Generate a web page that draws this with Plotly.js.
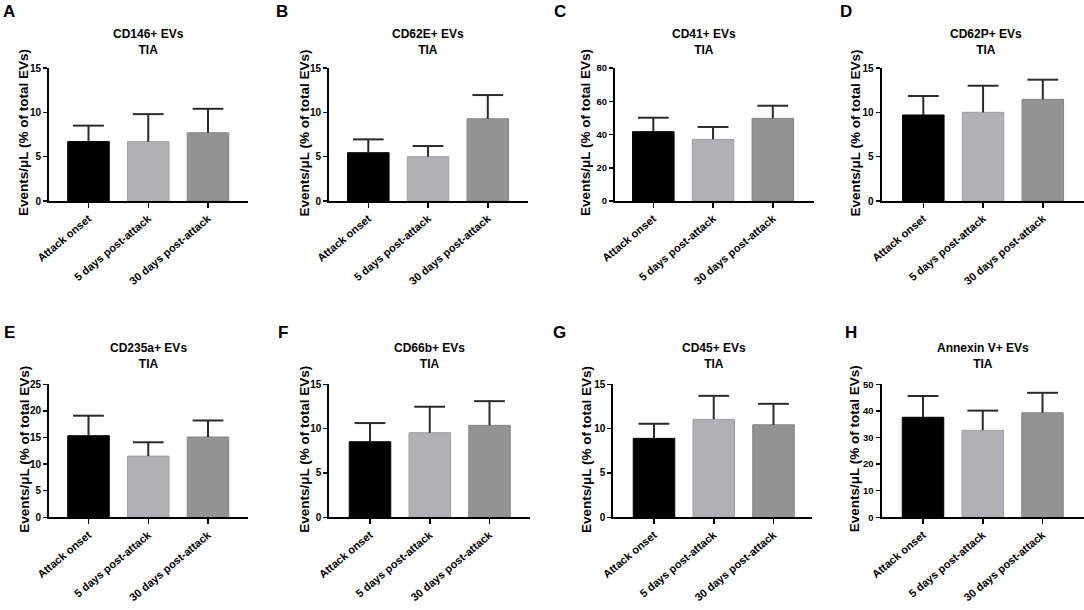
<!DOCTYPE html>
<html>
<head>
<meta charset="utf-8">
<script src="https://cdn.plot.ly/plotly-3.0.1.min.js"></script>
<style>
  body { margin: 0; background: #ffffff; }
  #myDiv { width: 1084px; height: 610px; }
</style>
</head>
<body>
<div id="myDiv"></div>
<script>
// Datos
const categories = ['Attack onset', '5 days post-attack', '30 days post-attack'];
const panelLetters = ['A', 'B', 'C', 'D', 'E', 'F', 'G', 'H'];
const markers = ['CD146+ EVs', 'CD62E+ EVs', 'CD41+ EVs', 'CD62P+ EVs',
                 'CD235a+ EVs', 'CD66b+ EVs', 'CD45+ EVs', 'Annexin V+ EVs'];
const subTitle = 'TIA';
const yTitle = 'Events/μL (% of total EVs)';

const meansA = [6.7, 6.7, 7.7];
const errA = [1.8, 3.1, 2.7];
const meansB = [5.45, 5.0, 9.28];
const errB = [1.5, 1.2, 2.67];
const meansC = [41.7, 37.1, 49.7];
const errC = [8.4, 7.4, 7.6];
const meansD = [9.7, 10.0, 11.47];
const errD = [2.14, 3.0, 2.21];
const meansE = [15.34, 11.5, 15.1];
const errE = [3.76, 2.6, 3.1];
const meansF = [8.52, 9.54, 10.37];
const errF = [2.11, 2.93, 2.73];
const meansG = [8.9, 11.05, 10.44];
const errG = [1.65, 2.65, 2.36];
const meansH = [37.6, 32.7, 39.3];
const errH = [8.0, 7.4, 7.5];

const yMax = [15, 15, 80, 15, 25, 15, 15, 50];
const yStep = [5, 5, 20, 5, 5, 5, 5, 10];

const allMeans = [meansA, meansB, meansC, meansD, meansE, meansF, meansG, meansH];
const allErr = [errA, errB, errC, errD, errE, errF, errG, errH];

// Geometría (px) de cada panel: borde izq. del eje, centro de la 1ª barra, borde der.
const W = 1084, H = 610;
const axLeft  = [49, 329, 615, 881.5, 49, 329.3, 613.3, 881.5];
const firstC  = [88.5, 368.3, 653.3, 923.3, 88.5, 370, 654, 923];
const axRight = [248, 528, 814, 1084, 248, 530, 812, 1084];
const rowTop = [68, 384.3];
const rowBottom = [201, 517.3];
const step = 59.75;

const titleX = [148, 427.7, 703.8, 985.8, 148, 429.3, 714, 982.7];
const titleY = [41.5, 356.5];
const letterX = [9, 282, 560, 846, 9, 283, 559, 851];
const letterY = [11.5, 332];
const yTitleX = [24, 304.5, 586, 855.5, 24.5, 304.5, 586.7, 854];
const yTickSize = [10, 10, 9.5, 10, 10, 10, 10, 9.5];

const barColors = ['#000000', '#b1b1b5', '#939393'];
const barLines = ['#000000', '#a0a0a4', '#868686'];
const errColor = '#2a2a2a';
const font = 'Liberation Sans, Arial, sans-serif';

let traces = [];
let layout = {
    width: W,
    height: H,
    margin: { l: 0, r: 0, t: 0, b: 0 },
    paper_bgcolor: '#ffffff',
    plot_bgcolor: '#ffffff',
    showlegend: false,
    font: { family: font, color: '#000000' },
    annotations: []
};

for (let i = 0; i < 8; i++) {
    let row = i < 4 ? 0 : 1;
    let n = i === 0 ? '' : String(i + 1);

    // barras con la línea de error hacia arriba (sin tapa)
    traces.push({
        type: 'bar',
        x: categories,
        y: allMeans[i],
        xaxis: 'x' + n,
        yaxis: 'y' + n,
        width: 0.695,
        marker: { color: barColors, line: { color: barLines, width: 1 } },
        error_y: {
            type: 'data',
            symmetric: false,
            array: allErr[i],
            arrayminus: [0, 0, 0],
            width: 0,
            thickness: 2,
            color: errColor
        },
        hoverinfo: 'none'
    });

    // tapas de las barras de error
    traces.push({
        type: 'scatter',
        mode: 'markers',
        x: categories,
        y: allMeans[i].map((m, k) => m + allErr[i][k]),
        xaxis: 'x' + n,
        yaxis: 'y' + n,
        marker: { symbol: 'line-ew', size: 22, line: { width: 2, color: errColor } },
        cliponaxis: false,
        hoverinfo: 'none'
    });

    let r0 = -(firstC[i] - axLeft[i]) / step;
    let r1 = 2 + (axRight[i] - firstC[i] - 2 * step) / step;
    let yDom = [1 - rowBottom[row] / H, 1 - rowTop[row] / H];

    layout['xaxis' + n] = {
        domain: [axLeft[i] / W, axRight[i] / W],
        anchor: 'y' + n,
        type: 'category',
        range: [r0, r1],
        showline: true,
        linecolor: '#000000',
        linewidth: 2,
        ticks: 'outside',
        ticklen: 5,
        tickwidth: 1.5,
        tickcolor: '#000000',
        tickangle: -40,
        tickfont: { family: font, size: 11, weight: 'bold', color: '#000000' },
        showgrid: false,
        zeroline: false,
        fixedrange: true
    };
    layout['yaxis' + n] = {
        domain: yDom,
        anchor: 'x' + n,
        range: [0, yMax[i]],
        dtick: yStep[i],
        tick0: 0,
        showline: true,
        linecolor: '#000000',
        linewidth: 2,
        ticks: 'outside',
        ticklen: 4,
        tickwidth: 1.5,
        tickcolor: '#000000',
        tickfont: { family: font, size: yTickSize[i], weight: 'bold', color: '#000000' },
        showgrid: false,
        zeroline: false,
        fixedrange: true
    };

    layout.annotations.push({
        xref: 'paper', yref: 'paper',
        x: yTitleX[i] / W, y: (yDom[0] + yDom[1]) / 2 + 1.5 / H,
        xanchor: 'center', yanchor: 'middle',
        textangle: -90,
        text: yTitle,
        showarrow: false,
        font: { family: font, size: 13.5, weight: 'bold', color: '#000000' }
    });
    layout.annotations.push({
        xref: 'paper', yref: 'paper',
        x: titleX[i] / W, y: 1 - titleY[row] / H,
        xanchor: 'center', yanchor: 'middle',
        text: markers[i] + '<br>' + subTitle,
        showarrow: false,
        font: { family: font, size: 12, weight: 'bold', color: '#000000' }
    });
    layout.annotations.push({
        xref: 'paper', yref: 'paper',
        x: letterX[i] / W, y: 1 - letterY[row] / H,
        xanchor: 'center', yanchor: 'middle',
        text: panelLetters[i],
        showarrow: false,
        font: { family: font, size: 17, weight: 'bold', color: '#000000' }
    });
}

Plotly.newPlot('myDiv', traces, layout, { displayModeBar: false, staticPlot: true });
</script>
</body>
</html>
